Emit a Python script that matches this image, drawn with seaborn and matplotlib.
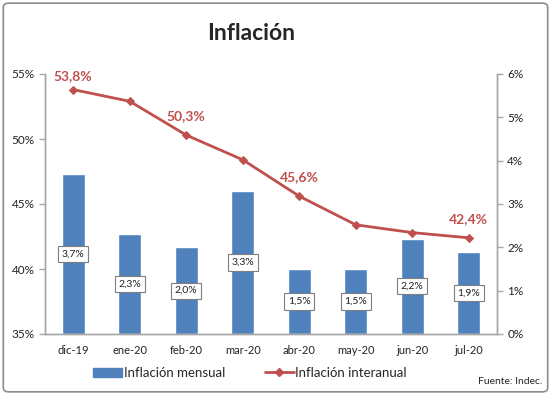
import matplotlib
matplotlib.use("Agg")
import matplotlib.pyplot as plt
import seaborn as sns
import numpy as np
import pandas as pd
from matplotlib.ticker import FuncFormatter
from matplotlib.patches import FancyBboxPatch, Patch
from matplotlib.lines import Line2D

meses = ["dic-19", "ene-20", "feb-20", "mar-20", "abr-20", "may-20", "jun-20", "jul-20"]
mensual = [3.7, 2.3, 2.0, 3.3, 1.5, 1.5, 2.2, 1.9]
interanual = [53.8, 52.9, 50.3, 48.4, 45.6, 43.4, 42.8, 42.4]
etiquetas_linea = [0, 2, 4, 7]

azul = "#4F81BD"
rojo = "#C0504D"
gris = "#A6A6A6"

sns.set_style("white")
plt.rcParams["font.family"] = ["Lato", "DejaVu Sans"]

df = pd.DataFrame({"mes": meses, "mensual": mensual, "interanual": interanual})

fig = plt.figure(figsize=(5.51, 3.95), dpi=100)
ax = fig.add_axes([45 / 551, 1 - 334 / 395, (497 - 45) / 551, (334 - 74) / 395])
ax2 = ax.twinx()

# barras (eje derecho)
sns.barplot(data=df, x="mes", y="mensual", ax=ax2, color=azul, width=0.4, saturation=1)
for i, v in enumerate(mensual):
    ax2.text(i, v / 2, f"{v:.1f}%".replace(".", ","), ha="center", va="center",
             fontsize=7.5, color="#222222",
             bbox=dict(boxstyle="square,pad=0.35", fc="white", ec="#7F7F7F", lw=0.8))

# linea (eje izquierdo)
ax.set_zorder(ax2.get_zorder() + 1)
ax.patch.set_visible(False)
sns.lineplot(x=np.arange(len(meses)), y=interanual, ax=ax, color=rojo, lw=2,
             marker="D", markersize=4, markeredgecolor=rojo)
for i in etiquetas_linea:
    off = 10 if i == 0 else 13.5
    ax.annotate(f"{interanual[i]:.1f}%".replace(".", ","), (i, interanual[i]),
                xytext=(0, off), textcoords="offset points", ha="center", va="center",
                fontsize=10, fontweight="bold", color=rojo)

ax.set_xlim(-0.5, len(meses) - 0.5)
ax2.set_xlim(-0.5, len(meses) - 0.5)
ax.set_ylim(35, 55)
ax2.set_ylim(0, 6)
ax.set_yticks([35, 40, 45, 50, 55])
ax2.set_yticks(range(7))
ax.yaxis.set_major_formatter(FuncFormatter(lambda v, p: f"{v:.0f}%"))
ax2.yaxis.set_major_formatter(FuncFormatter(lambda v, p: f"{v:.0f}%"))
ax.set_xticks(range(len(meses)))
ax.set_xticklabels(meses)
ax2.set_xlabel("")
ax2.set_ylabel("")
ax.set_xlabel("")
ax.set_ylabel("")

for a in (ax, ax2):
    for s in a.spines.values():
        s.set_color(gris)
        s.set_linewidth(1)
    a.spines["top"].set_visible(False)
    a.tick_params(colors="#222222", labelsize=8.5, length=4, width=1)
    a.tick_params(axis="both", color=gris)
ax.tick_params(axis="x", length=0, pad=8, labelsize=8)
ax2.tick_params(axis="x", bottom=False, labelbottom=False)

fig.text(251 / 551, 1 - 33 / 395, "Inflación", ha="center", va="center",
         fontsize=16.5, fontweight="bold")

handles = [Patch(fc=azul, ec=azul), Line2D([0], [0], color=rojo, lw=2, marker="D", markersize=4)]
fig.legend(handles, ["Inflación mensual", "Inflación interanual"], loc="center",
           bbox_to_anchor=(250 / 551, 1 - 373 / 395), ncol=2, frameon=False,
           fontsize=9.5, handlelength=2.2, handletextpad=0.1, columnspacing=3.0)
fig.text(542 / 551, 1 - 382 / 395, "Fuente: Indec.", ha="right", va="center", fontsize=7.5)

fig.patches.append(FancyBboxPatch((0.006, 0.008), 0.988, 0.984, boxstyle="round,pad=0,rounding_size=0.01",
                                  transform=fig.transFigure, fc="none", ec="#8C8C8C", lw=1.2))

fig.savefig("out.png", dpi=100)
